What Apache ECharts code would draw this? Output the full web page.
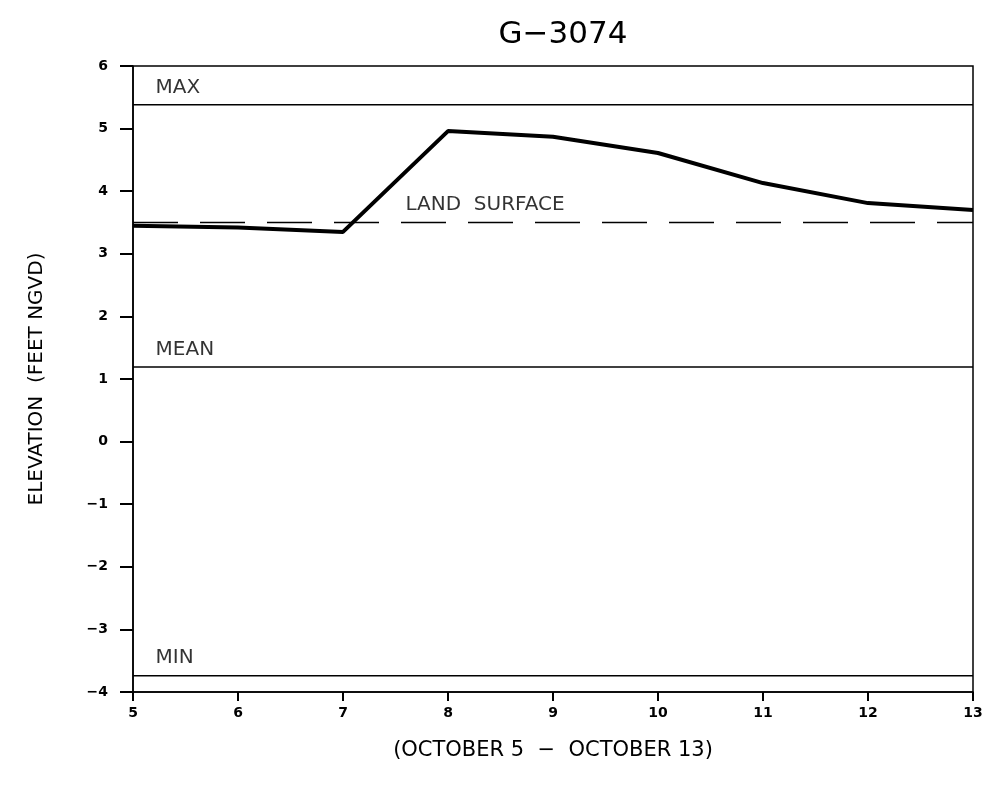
<!DOCTYPE html>
<html>
<head>
<meta charset="utf-8">
<script src="https://cdn.jsdelivr.net/npm/echarts@6/dist/echarts.min.js"></script>
<style>html,body{margin:0;padding:0;background:#fff;}#c{width:987px;height:787px;}</style>
</head>
<body>
<div id="c"></div>
<script>
const days = [5, 6, 7, 8, 9, 10, 11, 12, 13];
const elevation = [3.45, 3.42, 3.35, 4.96, 4.87, 4.61, 4.13, 3.81, 3.70];
const maxLevel = 5.38;
const meanLevel = 1.19;
const minLevel = -3.74;
const landSurface = 3.5;
const xTicks = [5, 6, 7, 8, 9, 10, 11, 12, 13];
const yTicks = [-4, -3, -2, -1, 0, 1, 2, 3, 4, 5, 6];

const chart = echarts.init(document.getElementById('c'));
const font = 'DejaVu Sans';
const flat = v => [[xTicks[0], v], [xTicks[xTicks.length - 1], v]];

chart.setOption({
  backgroundColor: '#fff',
  animation: false,
  title: {
    text: 'G\u22123074', left: 558, top: 14, textAlign: 'center',
    textStyle: {fontFamily: font, fontSize: 31, fontWeight: 'normal', color: '#000'}
  },
  grid: {left: 133, right: 14, top: 66, bottom: 95, show: true, borderColor: '#000', borderWidth: 1.5},
  xAxis: {
    type: 'value', min: 5, max: 13, interval: 1,
    name: '(OCTOBER 5  \u2212  OCTOBER 13)', nameLocation: 'middle', nameGap: 48,
    nameTextStyle: {fontFamily: font, fontSize: 21, color: '#000'},
    axisLine: {onZero: false, lineStyle: {color: '#000', width: 1.5}},
    axisTick: {length: 9, lineStyle: {color: '#000', width: 2}},
    axisLabel: {color: '#000', fontFamily: font, fontSize: 14, fontWeight: 'bold', margin: 14,
      formatter: v => xTicks.includes(v) ? String(v) : ''},
    splitLine: {show: false}
  },
  yAxis: {
    type: 'value', min: -4, max: 6, interval: 1,
    name: 'ELEVATION  (FEET NGVD)', nameLocation: 'middle', nameGap: 86, nameRotate: 90,
    nameTextStyle: {fontFamily: font, fontSize: 20, color: '#000'},
    axisLine: {onZero: false, lineStyle: {color: '#000', width: 1.5}},
    axisTick: {length: 13, lineStyle: {color: '#000', width: 2}},
    axisLabel: {color: '#000', fontFamily: font, fontSize: 14, fontWeight: 'bold', margin: 25,
      formatter: v => yTicks.includes(v) ? String(v).replace('-', '\u2212') : ''},
    splitLine: {show: false}
  },
  series: [
    {type: 'line', data: flat(maxLevel), symbol: 'none', lineStyle: {color: '#000', width: 1.5}, silent: true},
    {type: 'line', data: flat(meanLevel), symbol: 'none', lineStyle: {color: '#000', width: 1.5}, silent: true},
    {type: 'line', data: flat(minLevel), symbol: 'none', lineStyle: {color: '#000', width: 1.5}, silent: true},
    {type: 'line', data: flat(landSurface), symbol: 'none', lineStyle: {color: '#000', width: 1.5, type: [45, 22]}, silent: true},
    {type: 'line', data: days.map((d, i) => [d, elevation[i]]), symbol: 'none',
      lineStyle: {color: '#000', width: 4}, silent: true},
    {type: 'scatter', symbolSize: 1, silent: true, itemStyle: {color: 'rgba(0,0,0,0)'},
      data: [
        {value: [5.22, maxLevel], label: {formatter: 'MAX'}},
        {value: [5.22, meanLevel], label: {formatter: 'MEAN'}},
        {value: [5.22, minLevel], label: {formatter: 'MIN'}},
        {value: [7.6, landSurface], label: {formatter: 'LAND  SURFACE'}}
      ],
      label: {show: true, position: [0, -27],
        color: '#000', fontFamily: font, fontSize: 20}
    }
  ]
});
</script>
</body>
</html>
